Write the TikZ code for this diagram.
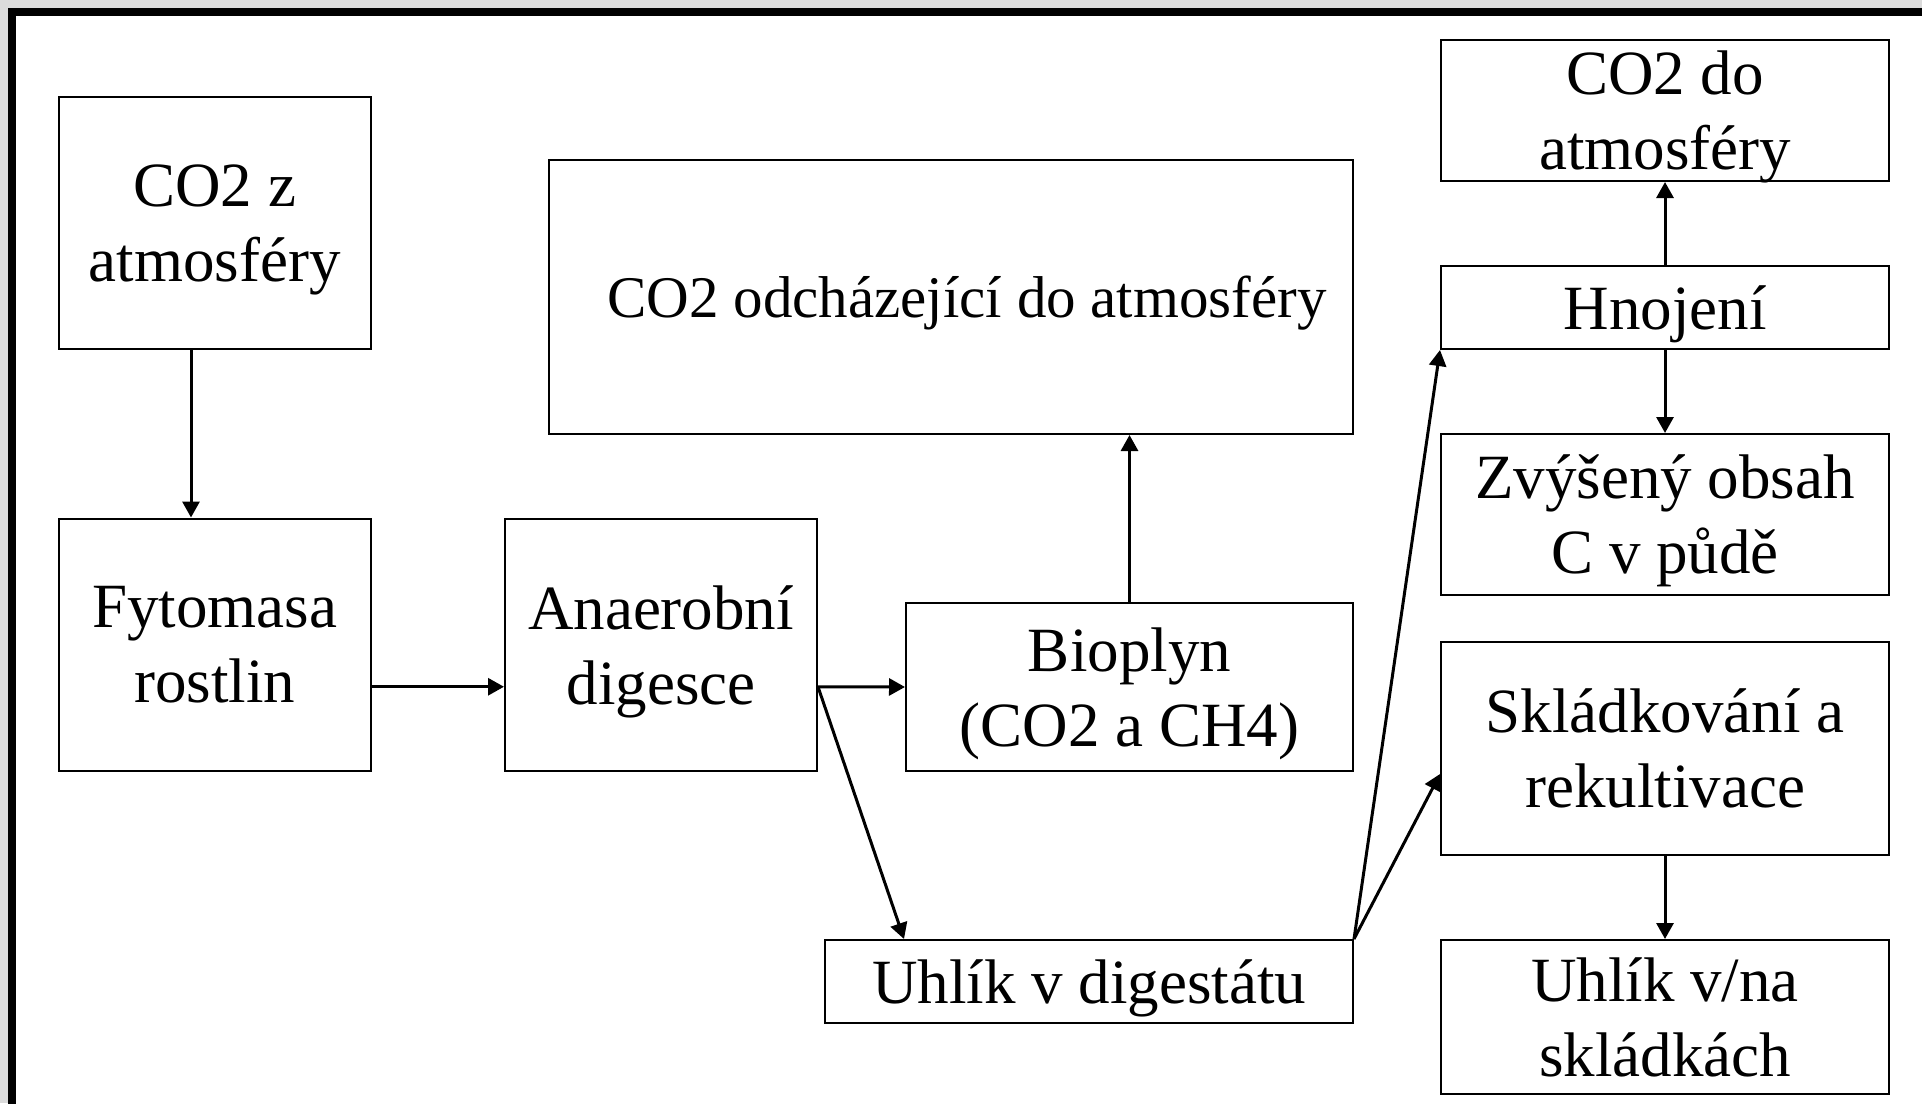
\documentclass[tikz,border=0pt]{standalone}
\usepackage{fontspec}
\setmainfont{Liberation Serif}
\usetikzlibrary{arrows.meta,calc}
\tikzset{
  box/.style={draw=black, line width=2pt, rectangle, anchor=north west, inner sep=0pt,
    align=center, text depth=0pt, font=\fontsize{63}{75}\selectfont},
  conn/.style={line width=3pt, -{Triangle[width=17pt,length=16pt]}},
}
\begin{document}
\begin{tikzpicture}[x=1pt,y=-1pt]
\useasboundingbox (0,0) rectangle (1922,1103);
\begin{scope}
\clip (0,0) rectangle (1922,1103);
\fill[gray!28] (0,0) rectangle (1922,1103);
\filldraw[fill=white, draw=black, line width=8pt] (12,12) rectangle (1960,1140);
\end{scope}

\node[box, minimum width=312.5pt, minimum height=252pt] (A) at (57.5,96) {CO2 z\\atmosféry};
\node[box, minimum width=312.5pt, minimum height=252.5pt] (B) at (57.5,517.5) {Fytomasa\\rostlin};
\node[box, minimum width=312pt, minimum height=252.5pt] (C) at (504,517.5) {Anaerobní\\digesce};
\node[box, minimum width=804pt, minimum height=274pt, font=\fontsize{59}{70}\selectfont] (D) at (548,159) {\hspace*{32pt}CO2 odcházející do atmosféry};
\node[box, minimum width=447pt, minimum height=168pt] (E) at (905,602) {Bioplyn\\(CO2 a CH4)};
\node[box, minimum width=528pt, minimum height=83pt] (F) at (824,939) {Uhlík v digestátu};
\node[box, minimum width=448pt, minimum height=141pt] (G) at (1440,39) {CO2 do\\atmosféry};
\node[box, minimum width=448pt, minimum height=83pt] (H) at (1440,265) {Hnojení};
\node[box, minimum width=448pt, minimum height=161pt] (I) at (1440,433) {Zvýšený obsah\\C v půdě};
\node[box, minimum width=448pt, minimum height=213pt] (J) at (1440,641) {Skládkování a\\rekultivace};
\node[box, minimum width=448pt, minimum height=154pt] (K) at (1440,939) {Uhlík v/na\\skládkách};

\coordinate (cout) at ([yshift=-42pt]C.east);
\draw[conn] ([xshift=-23.75pt]A.south) -- ([xshift=-23.75pt]B.north);
\draw[conn] ([yshift=-42pt]B.east) -- ([yshift=-42pt]C.west);
\draw[conn] (cout) -- (E.west);
\draw[conn] (cout) -- ([xshift=80pt]F.north west);
\draw[conn] (E.north) -- (E.north |- D.south);
\draw[conn] (F.north east) -- (H.south west);
\draw[conn] (F.north east) -- ([yshift=-25.5pt]J.west);
\draw[conn] (H.north) -- (G.south);
\draw[conn] (H.south) -- (I.north);
\draw[conn] (J.south) -- (K.north);
\end{tikzpicture}
\end{document}
